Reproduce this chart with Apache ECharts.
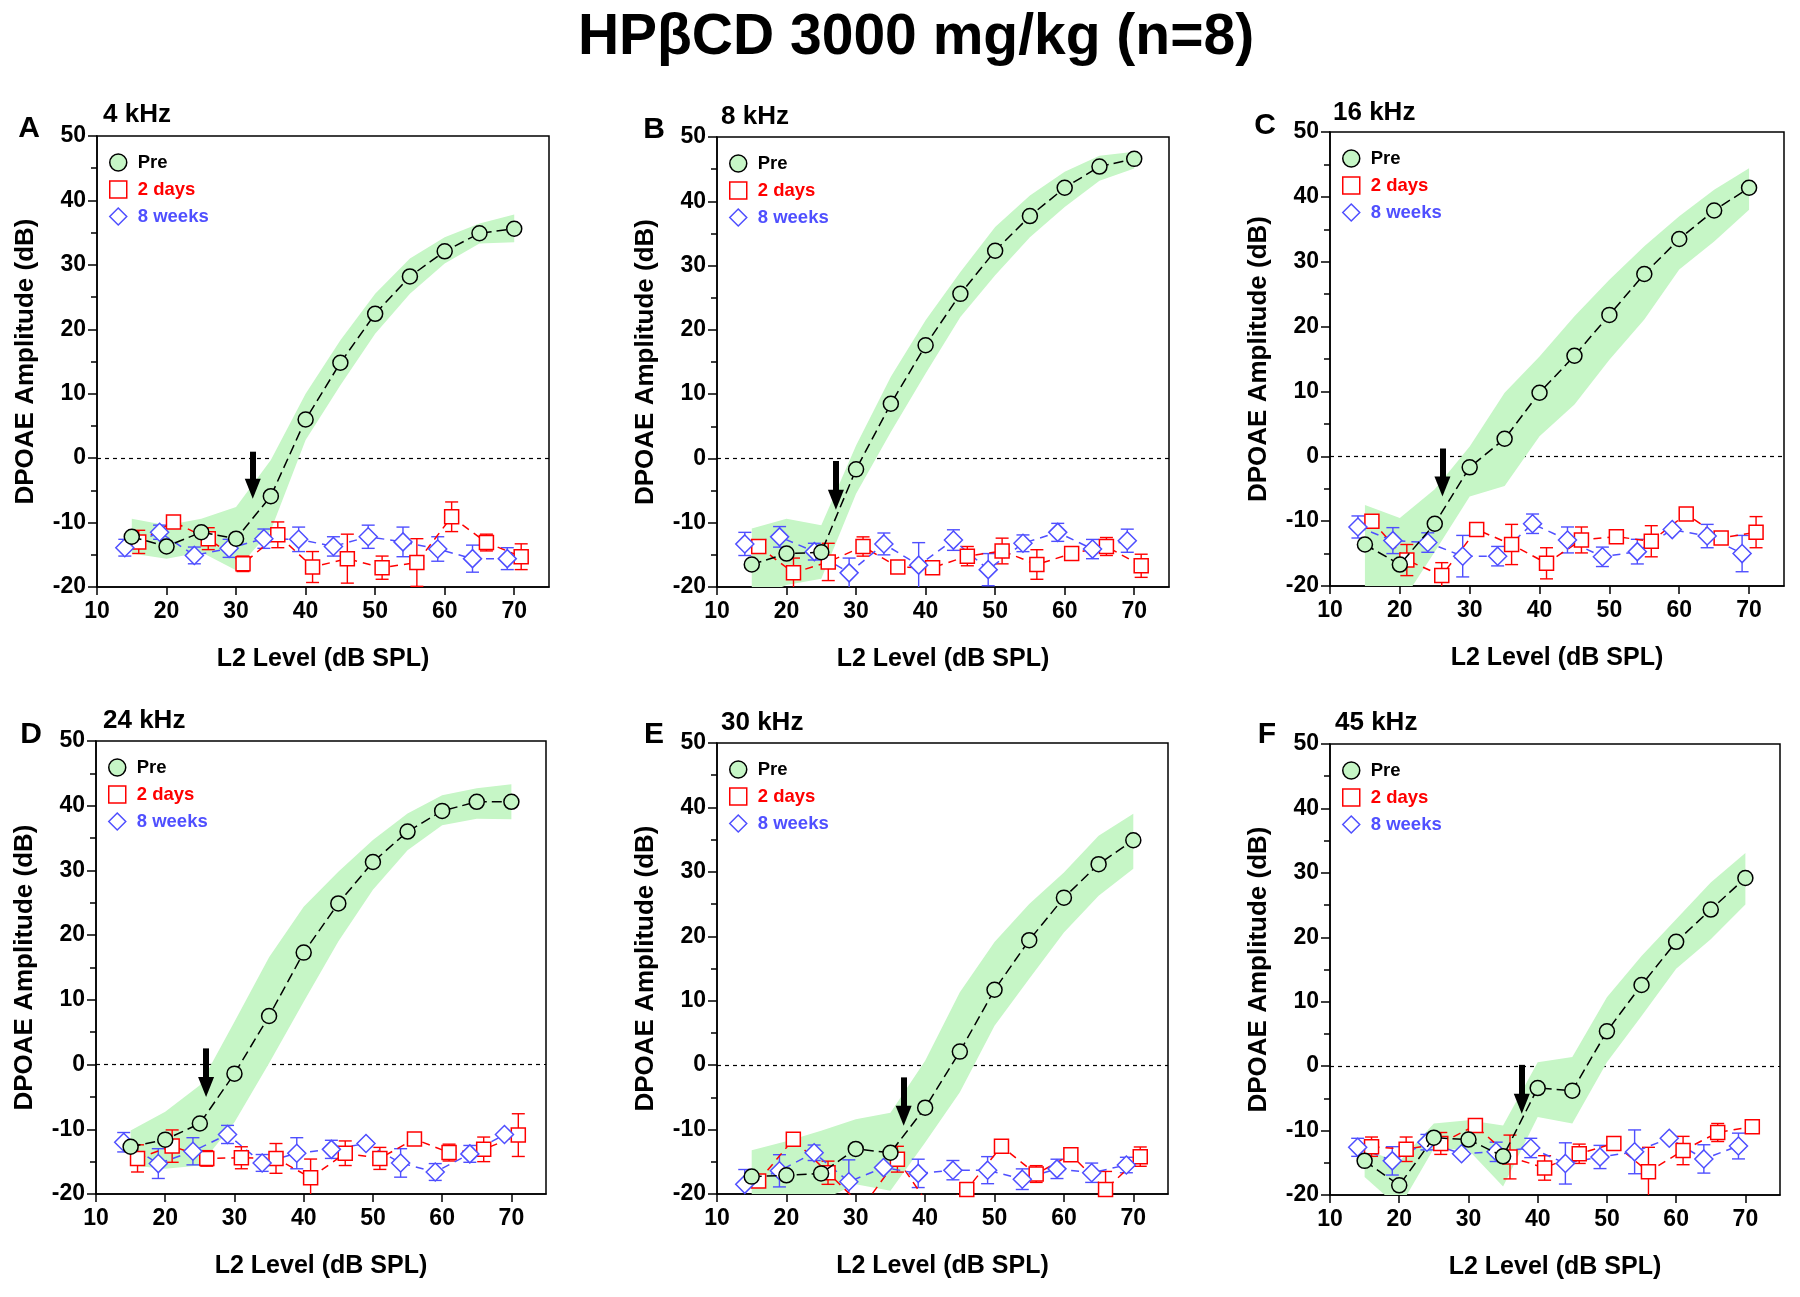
<!DOCTYPE html>
<html>
<head>
<meta charset="utf-8">
<script src="https://cdn.jsdelivr.net/npm/echarts@6/dist/echarts.min.js"></script>
<style>html,body{margin:0;padding:0;background:#fff}#c{width:1800px;height:1297px}</style>
</head>
<body>
<div id="c"></div>
<script>
// ---------- shared axes / categories ----------
const xPre = [15,20,25,30,35,40,45,50,55,60,65,70];
const x2d  = [16,21,26,31,36,41,46,51,56,61,66,71];
const x8w  = [14,19,24,29,34,39,44,49,54,59,64,69];
const xTickValues = [10,20,30,40,50,60,70];
const seriesNames = ['Pre','2 days','8 weeks'];
const panelLetters = ['A','B','C','D','E','F'];
const panelFreqs = ['4 kHz','8 kHz','16 kHz','24 kHz','30 kHz','45 kHz'];

// ---------- Panel A (4 kHz) ----------
const preA   = [-12.2,-13.7,-11.5,-12.5,-5.9,6.0,14.8,22.4,28.2,32.1,34.9,35.6];
const preHiA = [-9.4,-10.4,-9.4,-7.6,-0.3,10.0,18.3,25.5,31.0,34.3,36.4,37.8];
const preLoA = [-14.8,-15.6,-14.6,-17.4,-11.2,2.8,11.3,19.3,25.5,30.2,33.3,33.5];
const d2A    = [-13.0,-9.9,-12.5,-16.4,-11.9,-16.9,-15.6,-17.0,-16.2,-9.1,-13.1,-15.3];
const d2ErrA = [1.8,0.5,1.7,1.2,2.0,2.4,3.8,1.8,3.7,2.3,1.3,2.0];
const w8A    = [-13.9,-11.5,-15.1,-14.0,-12.5,-12.6,-13.7,-12.2,-13.0,-14.1,-15.6,-15.6];
const w8ErrA = [1.3,1.1,1.3,1.4,1.5,1.9,1.5,1.8,2.3,1.9,2.1,1.7];
const arrowA = [32.4, 1.0, -6.3];

// ---------- Panel B (8 kHz) ----------
const preB   = [-16.5,-14.8,-14.6,-1.7,8.5,17.6,25.6,32.3,37.7,42.1,45.4,46.6];
const preHiB = [-10.9,-9.4,-10.4,2.0,12.7,21.5,29.0,36.0,40.9,44.6,47.1,47.7];
const preLoB = [-22.0,-19.7,-18.7,-5.5,4.1,13.2,22.0,28.5,34.4,39.1,43.2,45.1];
const d2B    = [-13.7,-17.8,-16.1,-13.7,-16.9,-17.0,-15.2,-14.4,-16.5,-14.8,-13.7,-16.7];
const d2ErrB = [0.5,2.3,2.9,1.5,0.3,0.3,1.5,2.0,2.3,0.3,1.4,1.8];
const w8B    = [-13.3,-12.2,-14.5,-17.8,-13.3,-16.6,-12.7,-17.3,-13.2,-11.5,-14.1,-12.8];
const w8ErrB = [1.8,1.6,1.3,2.3,1.7,3.5,1.6,2.5,1.3,1.4,1.5,1.8];
const arrowB = [27.1, -0.4, -8.0];

// ---------- Panel C (16 kHz) ----------
const preC   = [-13.6,-16.7,-10.4,-1.7,2.7,9.8,15.5,21.8,28.1,33.5,37.9,41.4];
const preHiC = [-7.5,-9.5,-5.1,1.5,9.8,15.4,21.6,27.2,32.4,37.0,41.1,44.4];
const preLoC = [-20.5,-23.0,-14.7,-6.2,-4.6,3.1,8.0,14.9,21.1,28.8,33.1,38.0];
const d2C    = [-10.0,-16.0,-18.4,-11.3,-13.6,-16.5,-12.9,-12.4,-13.1,-8.9,-12.6,-11.7];
const d2ErrC = [0.4,2.4,2.0,0.4,3.1,2.4,2.0,0.4,2.4,0.4,0.4,2.4];
const w8C    = [-10.9,-13.0,-13.3,-15.4,-15.4,-10.4,-12.9,-15.5,-14.7,-11.3,-12.3,-15.0];
const w8ErrC = [1.7,2.0,1.5,3.2,1.5,1.5,2.0,1.5,1.9,0.4,1.8,2.8];
const arrowC = [26.1, 1.2, -6.2];

// ---------- Panel D (24 kHz) ----------
const preD   = [-12.7,-11.6,-9.1,-1.4,7.5,17.3,24.9,31.3,36.0,39.2,40.6,40.6];
const preHiD = [-10.2,-7.3,-3.2,6.6,16.6,24.4,29.8,34.7,38.8,41.6,42.7,43.3];
const preLoD = [-15.6,-16.1,-15.6,-8.9,0.2,9.7,19.0,27.0,33.1,37.0,38.0,37.9];
const d2D    = [-14.5,-12.6,-14.5,-14.4,-14.5,-17.5,-13.7,-14.5,-11.5,-13.6,-13.1,-10.9];
const d2ErrD = [2.1,2.5,1.2,1.7,2.3,2.9,1.9,1.7,0.4,1.3,1.9,3.3];
const w8D    = [-12.0,-15.3,-13.4,-10.8,-15.2,-13.7,-13.1,-12.2,-15.2,-16.6,-13.8,-10.8];
const w8ErrD = [1.5,2.3,2.1,1.4,1.3,2.4,1.4,0.4,2.2,1.3,1.3,0.4];
const arrowD = [25.9, 2.5, -5.0];

// ---------- Panel E (30 kHz) ----------
const preE   = [-17.3,-17.1,-16.8,-13.0,-13.6,-6.6,2.1,11.7,19.4,26.0,31.2,34.9];
const preHiE = [-13.2,-11.8,-10.2,-8.4,-7.4,0.7,11.3,19.1,25.0,29.9,35.6,39.0];
const preLoE = [-21.0,-21.0,-21.0,-18.5,-19.5,-12.0,-4.2,6.1,13.4,20.6,26.3,30.5];
const d2E    = [-18.0,-11.5,-16.7,-22.0,-14.6,-22.5,-19.3,-12.6,-16.9,-13.9,-19.3,-14.2];
const d2ErrE = [0.5,0.8,1.8,0,2.0,0,0.4,0.4,1.3,0.4,2.8,1.5];
const w8E    = [-18.5,-16.4,-13.6,-18.1,-15.9,-16.8,-16.3,-16.3,-17.7,-16.1,-16.7,-15.5];
const w8ErrE = [2.3,2.5,1.2,3.4,0.4,2.2,1.5,2.1,1.6,1.5,1.5,1.2];
const arrowE = [36.9, -1.9, -9.4];

// ---------- Panel F (45 kHz) ----------
const preF   = [-14.7,-18.5,-11.1,-11.4,-14.0,-3.4,-3.8,5.4,12.6,19.3,24.3,29.2];
const preHiF = [-13.0,-14.8,-8.9,-8.4,-9.2,0.6,1.4,10.7,17.1,22.8,28.5,33.1];
const preLoF = [-17.2,-22.0,-12.8,-13.0,-18.7,-7.9,-8.9,0.6,7.8,15.1,19.7,25.1];
const d2F    = [-12.5,-12.9,-12.0,-9.2,-14.1,-15.8,-13.6,-12.0,-16.4,-13.1,-10.3,-9.4];
const d2ErrF = [1.5,1.9,1.7,0.4,3.4,1.9,1.5,0.4,3.8,2.2,1.4,0.4];
const w8F    = [-12.6,-14.7,-11.8,-13.6,-13.3,-12.7,-15.1,-14.1,-13.3,-11.2,-14.4,-12.4];
const w8ErrF = [1.4,2.2,1.2,0.4,1.5,1.5,3.2,1.8,3.4,0.4,2.2,2.0];
const arrowF = [37.7, 0.2, -7.4];

// ---------- styling / layout ----------
const FONT = '"Liberation Sans", Arial, Helvetica, sans-serif';
const BAND = '#c6f6c6';
const RED = '#ff0000';
const BLUE = '#4f4fff';
const Y_MIN = -20, Y_MAX = 50;
const ARROW_HEAD = [16, 20];

const DATA = [
  [preA,preLoA,preHiA,d2A,d2ErrA,w8A,w8ErrA,arrowA],
  [preB,preLoB,preHiB,d2B,d2ErrB,w8B,w8ErrB,arrowB],
  [preC,preLoC,preHiC,d2C,d2ErrC,w8C,w8ErrC,arrowC],
  [preD,preLoD,preHiD,d2D,d2ErrD,w8D,w8ErrD,arrowD],
  [preE,preLoE,preHiE,d2E,d2ErrE,w8E,w8ErrE,arrowE],
  [preF,preLoF,preHiF,d2F,d2ErrF,w8F,w8ErrF,arrowF]
];
const GRIDS = [
  {left:97,  top:136, width:452, height:451},
  {left:717, top:137, width:452, height:450},
  {left:1330,top:132, width:454, height:454},
  {left:96,  top:741, width:450, height:453},
  {left:717, top:743, width:451, height:451},
  {left:1330,top:744, width:450, height:451}
];
const LETTER_POS = [[29,129],[654,130],[1265,126],[31,735],[654,735],[1267,735]];
const FREQ_POS = [[103,115],[721,117],[1333,113],[103,721],[721,723],[1335,723]];

function interY(a,b,y){const t=(y-a[1])/(b[1]-a[1]);return [a[0]+t*(b[0]-a[0]),y];}
function interX(a,b,x){const t=(x-a[0])/(b[0]-a[0]);return [x,a[1]+t*(b[1]-a[1])];}
function clipPoly(pts, r){
  const edges = [
    [p=>p[1]>=r.y, (a,b)=>interY(a,b,r.y)],
    [p=>p[1]<=r.y+r.height, (a,b)=>interY(a,b,r.y+r.height)],
    [p=>p[0]>=r.x, (a,b)=>interX(a,b,r.x)],
    [p=>p[0]<=r.x+r.width, (a,b)=>interX(a,b,r.x+r.width)]
  ];
  for (const [inside, inter] of edges){
    const out=[];
    for (let i=0;i<pts.length;i++){
      const cur=pts[i], prev=pts[(i+pts.length-1)%pts.length];
      const ci=inside(cur), pi=inside(prev);
      if (ci){ if(!pi) out.push(inter(prev,cur)); out.push(cur); }
      else if (pi) out.push(inter(prev,cur));
    }
    pts=out;
    if(!pts.length) break;
  }
  return pts;
}
function bandRender(params, api){
  if (params.dataIndexInside !== 0) return null;
  const n = params.dataInsideLength;
  const up=[], lo=[];
  for (let i=0;i<n;i++){
    const x=api.value(0,i);
    lo.push(api.coord([x, api.value(1,i)]));
    up.push(api.coord([x, api.value(2,i)]));
  }
  const pts = clipPoly(up.concat(lo.reverse()), params.coordSys);
  if (pts.length < 3) return null;
  return {type:'polygon', silent:true, shape:{points:pts}, style:{fill:BAND, stroke:null}};
}
function errRender(color){
  return function(params, api){
    const x=api.value(0), lo=api.value(1), hi=api.value(2);
    const pHi=api.coord([x,hi]), pLo=api.coord([x,lo]);
    const r=params.coordSys, top=r.y, bot=r.y+r.height;
    const y1=Math.max(pHi[1],top), y2=Math.min(pLo[1],bot);
    if (y1>=y2) return null;
    const cw=6.5, st={stroke:color, lineWidth:1.4};
    const ch=[{type:'line', shape:{x1:pHi[0],y1:y1,x2:pHi[0],y2:y2}, style:st}];
    if (pHi[1]>=top) ch.push({type:'line', shape:{x1:pHi[0]-cw,y1:pHi[1],x2:pHi[0]+cw,y2:pHi[1]}, style:st});
    if (pLo[1]<=bot) ch.push({type:'line', shape:{x1:pLo[0]-cw,y1:pLo[1],x2:pLo[0]+cw,y2:pLo[1]}, style:st});
    return {type:'group', silent:true, children:ch};
  };
}

const grids=[], xAxes=[], yAxes=[], series=[], legends=[], graphics=[];
graphics.push({type:'text', x:916, y:38, silent:true,
  style:{text:'HP\u03B2CD 3000 mg/kg (n=8)', font:'bold 57px '+FONT, fill:'#000', align:'center', verticalAlign:'middle', textAlign:'center', textVerticalAlign:'middle'}});

DATA.forEach((d,i)=>{
  const [pre,preLo,preHi,d2,d2Err,w8,w8Err,arrow] = d;
  const g = GRIDS[i];
  grids.push(Object.assign({show:true, borderColor:'#000', borderWidth:1.5, backgroundColor:'transparent'}, g));
  const labelStyle = {fontFamily:FONT, fontWeight:'bold', fontSize:23, color:'#000'};
  const nameStyle = {fontFamily:FONT, fontWeight:'bold', fontSize:25, color:'#000'};
  xAxes.push({gridIndex:i, type:'value', min:10, max:75, interval:10,
    name:'L2 Level (dB SPL)', nameLocation:'middle', nameGap:60, nameTextStyle:nameStyle,
    axisLine:{show:true, onZero:false, lineStyle:{color:'#000', width:1.5}},
    axisTick:{show:true, length:8, customValues:xTickValues, lineStyle:{color:'#000', width:1.5}},
    axisLabel:{customValues:xTickValues, margin:13, ...labelStyle},
    splitLine:{show:false}});
  yAxes.push({gridIndex:i, type:'value', min:Y_MIN, max:Y_MAX, interval:10,
    name:'DPOAE Amplitude (dB)', nameLocation:'middle', nameGap:58, nameRotate:90,
    nameTextStyle:Object.assign({}, nameStyle, {fontSize:26}),
    axisLine:{show:true, onZero:false, lineStyle:{color:'#000', width:1.5}},
    axisTick:{show:true, length:9, lineStyle:{color:'#000', width:1.5}},
    minorTick:{show:true, splitNumber:2, length:6, lineStyle:{color:'#000', width:1.5}},
    axisLabel:{margin:11, ...labelStyle},
    splitLine:{show:false}, minorSplitLine:{show:false}});

  const common = {xAxisIndex:i, yAxisIndex:i, animation:false, silent:true};
  series.push(Object.assign({type:'custom', name:'band', z:2, renderItem:bandRender,
    encode:{x:0, y:[1,2]}, data:xPre.map((x,k)=>[x, preLo[k], preHi[k]])}, common));
  series.push(Object.assign({type:'custom', name:'err2d', z:3, renderItem:errRender(RED),
    encode:{x:0, y:[1,2]}, data:x2d.map((x,k)=>[x, d2[k]-d2Err[k], d2[k]+d2Err[k]])}, common));
  series.push(Object.assign({type:'custom', name:'err8w', z:3, renderItem:errRender(BLUE),
    encode:{x:0, y:[1,2]}, data:x8w.map((x,k)=>[x, w8[k]-w8Err[k], w8[k]+w8Err[k]])}, common));

  const pxPerDb = g.height/(Y_MAX-Y_MIN);
  const headDb = (ARROW_HEAD[1]/2)/pxPerDb;
  series.push(Object.assign({type:'line', name:seriesNames[0], z:5,
    data:xPre.map((x,k)=>[x, pre[k]]),
    symbol:'circle', symbolSize:15, showAllSymbol:true,
    itemStyle:{color:BAND, borderColor:'#000', borderWidth:1.5},
    lineStyle:{color:'#000', width:1.5, type:[10,5]},
    emphasis:{disabled:true},
    markLine:{silent:true, z:10, animation:false, symbol:['none','triangle'], symbolSize:ARROW_HEAD,
      label:{show:false}, emphasis:{disabled:true},
      itemStyle:{color:'#000'},
      lineStyle:{color:'#000', width:6, type:'solid'},
      data:[[{coord:[arrow[0], arrow[1]]},{coord:[arrow[0], arrow[2]+headDb]}]]}}, common));
  series.push(Object.assign({type:'line', name:seriesNames[1], z:4,
    data:x2d.map((x,k)=>[x, d2[k]]),
    symbol:'rect', symbolSize:14, showAllSymbol:true,
    itemStyle:{color:'#fff', borderColor:RED, borderWidth:1.5},
    lineStyle:{color:RED, width:1.5, type:[8,6]},
    emphasis:{disabled:true},
    markLine:{silent:true, z:1, animation:false, symbol:['none','none'], label:{show:false},
      emphasis:{disabled:true},
      lineStyle:{color:'#000', width:1.2, type:[4,4]},
      data:[{yAxis:0}]}}, common));
  series.push(Object.assign({type:'line', name:seriesNames[2], z:4,
    data:x8w.map((x,k)=>[x, w8[k]]),
    symbol:'diamond', symbolSize:18, showAllSymbol:true,
    itemStyle:{color:'#fff', borderColor:BLUE, borderWidth:1.5},
    lineStyle:{color:BLUE, width:1.5, type:[8,6]},
    emphasis:{disabled:true}}, common));

  legends.push({left:g.left+12, top:g.top+17, orient:'vertical', padding:0,
    itemWidth:17, itemHeight:17, itemGap:8, selectedMode:false,
    textStyle:{fontFamily:FONT, fontWeight:'bold', fontSize:18.5, lineHeight:18, padding:[0,0,0,6]},
    data:[
      {name:seriesNames[0], icon:'circle', itemStyle:{color:BAND, borderColor:'#000', borderWidth:1.5}, textStyle:{color:'#000'}},
      {name:seriesNames[1], icon:'rect', itemStyle:{color:'#fff', borderColor:RED, borderWidth:1.5}, textStyle:{color:RED}},
      {name:seriesNames[2], icon:'diamond', itemStyle:{color:'#fff', borderColor:BLUE, borderWidth:1.5}, textStyle:{color:BLUE}}
    ]});

  graphics.push({type:'text', x:LETTER_POS[i][0], y:LETTER_POS[i][1], silent:true,
    style:{text:panelLetters[i], font:'bold 30px '+FONT, fill:'#000', align:'center', verticalAlign:'middle', textAlign:'center', textVerticalAlign:'middle'}});
  graphics.push({type:'text', x:FREQ_POS[i][0], y:FREQ_POS[i][1], silent:true,
    style:{text:panelFreqs[i], font:'bold 26px '+FONT, fill:'#000', align:'left', verticalAlign:'middle', textAlign:'left', textVerticalAlign:'middle'}});
});

const chart = echarts.init(document.getElementById('c'), null, {renderer:'canvas'});
chart.setOption({
  animation:false,
  backgroundColor:'#fff',
  textStyle:{fontFamily:FONT},
  grid:grids, xAxis:xAxes, yAxis:yAxes, series:series, legend:legends, graphic:graphics
});
</script>
</body>
</html>
